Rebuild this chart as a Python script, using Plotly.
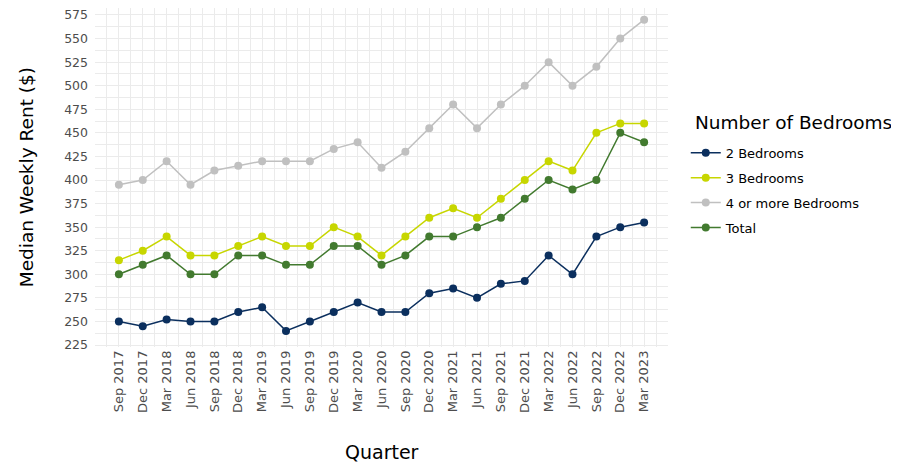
import plotly.graph_objects as go

quarters = ["Sep 2017", "Dec 2017", "Mar 2018", "Jun 2018", "Sep 2018", "Dec 2018",
            "Mar 2019", "Jun 2019", "Sep 2019", "Dec 2019", "Mar 2020", "Jun 2020",
            "Sep 2020", "Dec 2020", "Mar 2021", "Jun 2021", "Sep 2021", "Dec 2021",
            "Mar 2022", "Jun 2022", "Sep 2022", "Dec 2022", "Mar 2023"]

bed2 = [250, 245, 252, 250, 250, 260, 265, 240, 250, 260, 270, 260,
        260, 280, 285, 275, 290, 293, 320, 300, 340, 350, 355]
bed3 = [315, 325, 340, 320, 320, 330, 340, 330, 330, 350, 340, 320,
        340, 360, 370, 360, 380, 400, 420, 410, 450, 460, 460]
bed4 = [395, 400, 420, 395, 410, 415, 420, 420, 420, 433, 440, 413,
        430, 455, 480, 455, 480, 500, 525, 500, 520, 550, 570]
total = [300, 310, 320, 300, 300, 320, 320, 310, 310, 330, 330, 310,
         320, 340, 340, 350, 360, 380, 400, 390, 400, 450, 440]

series_names = ["2 Bedrooms", "3 Bedrooms", "4 or more Bedrooms", "Total"]
series_values = [bed2, bed3, bed4, total]
series_colors = ["#0b2f5e", "#c7d600", "#c0c0c0", "#427a2f"]

y_ticks = list(range(225, 576, 25))

FONT = "'DejaVu Sans', 'Noto Sans', sans-serif"

xs = list(range(len(quarters)))
fig = go.Figure()
for name, vals, col in zip(series_names, series_values, series_colors):
    fig.add_trace(go.Scatter(
        x=xs, y=vals, name=name, mode="lines+markers",
        line=dict(color=col, width=1.5),
        marker=dict(color=col, size=8),
        legendgroup=name,
    ))

fig.update_layout(
    width=899, height=467,
    margin=dict(l=87, r=239, t=0, b=128),
    plot_bgcolor="white", paper_bgcolor="white",
    font=dict(family=FONT, color="#000000"),
    legend=dict(
        font=dict(size=13, color="#000"),
        x=1.031, xanchor="left", y=0.617, yanchor="top",
        tracegroupgap=5,
    ),
    xaxis=dict(
        range=[-1, 23], automargin=False,
        tickmode="array", tickvals=xs, ticktext=quarters,
        tickangle=-90, tickfont=dict(size=13, color="#4d4d4d"),
        showgrid=True, gridcolor="#ebebeb", gridwidth=1.3,
        zeroline=False, showline=False, ticks="",
        minor=dict(tickmode="linear", tick0=0.5, dtick=1, showgrid=True,
                   gridcolor="#ebebeb", gridwidth=0.8),
    ),
    yaxis=dict(
        range=[222.9, 582.4], automargin=False,
        tickmode="array", tickvals=y_ticks,
        tickfont=dict(size=12.5, color="#4d4d4d"),
        ticklabeloverflow="allow", ticklabelstandoff=6,
        showgrid=True, gridcolor="#ebebeb", gridwidth=1.3,
        zeroline=False, showline=False, ticks="",
        minor=dict(tickmode="linear", tick0=237.5, dtick=25, showgrid=True,
                   gridcolor="#ebebeb", gridwidth=0.8),
    ),
    annotations=[
        dict(text="Quarter", xref="paper", yref="paper", x=0.5, y=-0.311,
             xanchor="center", yanchor="middle", showarrow=False,
             font=dict(size=19, color="#000")),
        dict(text="Median Weekly Rent ($)", xref="paper", yref="paper",
             x=-0.119, y=0.5, xanchor="center", yanchor="middle",
             textangle=-90, showarrow=False,
             font=dict(size=18.5, color="#000")),
        dict(text="Number of Bedrooms", xref="paper", yref="paper",
             x=1.0436, y=0.6637, xanchor="left", yanchor="middle",
             showarrow=False, font=dict(size=18.5, color="#000")),
    ],
)

fig.write_html("out.html")
